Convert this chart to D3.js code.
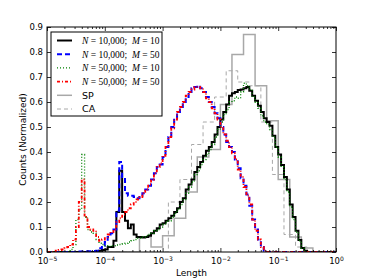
<!DOCTYPE html>
<html>
<head>
<meta charset="utf-8">
<script src="https://cdn.jsdelivr.net/npm/d3@7"></script>
<style>
  body { margin: 0; background: #fff; }
  svg { display: block; font-family: "DejaVu Sans", sans-serif; }
</style>
</head>
<body>
<div id="chart"></div>
<script>
// fine histograms: 100 log bins between 1e-5 and 1
const fineBinStart = -5, fineBinStep = 0.05;

const n10kM10 = [0,0,0,0,0,0,0,0,0,0,0,0,0,0,0,0,0,
  0.003,0.005,0.008,0.01,0.02,0.02,0.045,0.16,0.325,0.16,0.125,0.095,0.11,0.07,
  0.06,0.06,0.058,0.06,0.065,0.075,0.085,0.095,0.11,0.115,0.125,0.135,0.145,0.16,
  0.175,0.2,0.215,0.25,0.27,0.29,0.32,0.34,0.36,0.385,0.405,0.42,0.44,0.47,0.5,
  0.53,0.56,0.59,0.625,0.635,0.64,0.648,0.65,0.655,0.66,0.645,0.625,0.605,0.585,
  0.56,0.535,0.52,0.505,0.465,0.42,0.39,0.348,0.3,0.25,0.19,0.14,0.085,0.048,
  0.016,0.005,0,0,0,0,0,0,0,0,0,0];

const n10kM50 = [0,0,0,0,0,0,0,0,0,0,0.002,0.002,0.002,0.003,0.003,0.003,0.004,
  0.005,0.015,0.025,0.04,0.06,0.075,0.09,0.165,0.36,0.3,0.235,0.225,0.225,0.22,
  0.215,0.225,0.235,0.25,0.265,0.29,0.315,0.34,0.35,0.38,0.42,0.46,0.5,0.535,
  0.56,0.58,0.6,0.62,0.64,0.655,0.66,0.665,0.655,0.64,0.62,0.6,0.58,0.555,0.535,
  0.5,0.47,0.44,0.42,0.4,0.37,0.335,0.295,0.265,0.23,0.185,0.13,0.09,0.05,0.02,
  0.005,0,0,0,0,0,0,0,0,0,0,0,0,0,0,0,0,0,0,0,0,0,0,0,0];

const n50kM10 = [0,0,0,0,0,0,0,0,
  0.01,0.03,0.13,0.17,0.39,0.14,0.09,0.08,0.075,0.05,0.035,0.03,0.025,0.022,
  0.025,0.025,0.028,0.03,0.032,0.035,0.04,0.045,0.05,0.055,0.055,0.06,0.065,0.07,
  0.075,0.085,0.09,0.1,0.11,0.12,0.125,0.14,0.155,0.17,0.19,0.21,0.235,0.26,0.28,
  0.31,0.325,0.35,0.37,0.39,0.41,0.43,0.46,0.49,0.52,0.55,0.57,0.6,0.605,0.62,
  0.615,0.64,0.675,0.665,0.65,0.62,0.6,0.575,0.545,0.52,0.51,0.49,0.46,0.42,0.38,
  0.34,0.29,0.24,0.18,0.13,0.08,0.045,0.015,0.005,0,0,0,0,0,0,0,0,0,0];

const n50kM50 = [0,0,0,0.005,0.008,0.01,0.015,0.02,0.03,0.05,0.1,0.2,0.29,0.14,
  0.1,0.09,0.085,0.06,0.045,0.05,0.055,0.07,0.08,0.09,0.12,0.135,0.15,0.16,0.175,
  0.19,0.2,0.21,0.22,0.235,0.25,0.27,0.29,0.315,0.34,0.355,0.385,0.42,0.46,0.495,
  0.53,0.56,0.58,0.6,0.625,0.64,0.65,0.66,0.66,0.655,0.64,0.615,0.6,0.575,0.555,
  0.53,0.5,0.47,0.445,0.42,0.395,0.37,0.33,0.3,0.26,0.225,0.19,0.13,0.085,0.05,
  0.02,0.005,0,0,0,0,0,0,0,0,0,0,0,0,0,0,0,0,0,0,0,0,0,0,0,0];

// coarse histograms: 0.2-decade bins
const spBinStart = -5, caBinStart = -4.9, coarseBinStep = 0.2;
const spCounts = [0,0,0,0,0,0,0,0,0.06,0.02,0.065,0.135,0.24,0.38,0.41,0.59,0.79,
  0.87,0.665,0.525,0.29,0.06,0.016,0,0];
const caCounts = [0,0,0,0,0,0,0,0,0,0,0.2,0.29,0.43,0.52,0.62,0.725,0.68,0.665,
  0.52,0.31,0.07,0.02,0,0];

const xTickExps = [-5, -4, -3, -2, -1, 0];
const yTicks = [0, 0.1, 0.2, 0.3, 0.4, 0.5, 0.6, 0.7, 0.8, 0.9];

const series = [
  {label: [["N", 1], [" = 10,000;  ", 0], ["M", 1], [" = 10", 0]], values: n10kM10, start: fineBinStart, step: fineBinStep,
   color: "#000000", width: 2, dash: null},
  {label: [["N", 1], [" = 10,000;  ", 0], ["M", 1], [" = 50", 0]], values: n10kM50, start: fineBinStart, step: fineBinStep,
   color: "#0000ff", width: 2, dash: "5,3"},
  {label: [["N", 1], [" = 50,000;  ", 0], ["M", 1], [" = 10", 0]], values: n50kM10, start: fineBinStart, step: fineBinStep,
   color: "#008000", width: 1.3, dash: "1,2"},
  {label: [["N", 1], [" = 50,000;  ", 0], ["M", 1], [" = 50", 0]], values: n50kM50, start: fineBinStart, step: fineBinStep,
   color: "#ff0000", width: 1.8, dash: "3,2,1,2"},
  {label: "SP", values: spCounts, start: spBinStart, step: coarseBinStep,
   color: "#a8a8a8", width: 1.5, dash: null},
  {label: "CA", values: caCounts, start: caBinStart, step: coarseBinStep,
   color: "#a8a8a8", width: 1, dash: "4,3"}
];

const W = 374, H = 280;
const margin = {left: 47, top: 27, right: 38, bottom: 28};
const width = W - margin.left - margin.right;
const height = H - margin.top - margin.bottom;

const svg = d3.select("#chart").append("svg").attr("width", W).attr("height", H);
const g = svg.append("g").attr("transform", `translate(${margin.left},${margin.top})`);

const x = d3.scaleLog().domain([1e-5, 1]).range([0, width]);
const y = d3.scaleLinear().domain([0, 0.9]).range([height, 0]);

g.append("clipPath").attr("id", "clip").append("rect").attr("width", width).attr("height", height);

function stepPoints(s) {
  const pts = [[Math.pow(10, s.start), 0]];
  s.values.forEach((v, i) => {
    pts.push([Math.pow(10, s.start + s.step * i), v]);
    pts.push([Math.pow(10, s.start + s.step * (i + 1)), v]);
  });
  pts.push([Math.pow(10, s.start + s.step * s.values.length), 0]);
  return pts;
}

const line = d3.line().x(d => x(d[0])).y(d => y(d[1]));
const plot = g.append("g").attr("clip-path", "url(#clip)");

// grey reference histograms underneath
const order = [4, 5, 0, 1, 2, 3];
order.forEach(k => {
  const s = series[k];
  plot.append("path")
    .attr("d", line(stepPoints(s)))
    .attr("fill", "none")
    .attr("stroke", s.color)
    .attr("stroke-width", s.width)
    .attr("stroke-dasharray", s.dash)
    .attr("stroke-linejoin", "miter");
});

// axes, ticks inward on all four sides
const minor = [];
for (let e = -5; e < 0; e++) for (let m = 2; m <= 9; m++) minor.push(m * Math.pow(10, e));
const majors = xTickExps.map(e => Math.pow(10, e));
const supFmt = ["\u22125", "\u22124", "\u22123", "\u22122", "\u22121", "0"];

function styleAxis(sel) {
  sel.select(".domain").remove();
  sel.selectAll("line").attr("stroke", "#000").attr("stroke-width", 0.8);
  sel.selectAll("text").attr("font-size", 8.5).attr("fill", "#000")
    .attr("font-family", "'DejaVu Sans', sans-serif");
}

const xb = g.append("g").attr("transform", `translate(0,${height})`)
  .call(d3.axisBottom(x).tickValues(majors).tickSize(-4).tickPadding(6).tickFormat(() => ""));
styleAxis(xb);
xb.selectAll(".tick text").each(function(d, i) {
  const t = d3.select(this);
  t.append("tspan").text("10");
  t.append("tspan").attr("dy", -3.5).attr("font-size", 6).text(supFmt[i]);
});
g.append("g").attr("transform", `translate(0,${height})`)
  .call(d3.axisBottom(x).tickValues(minor).tickSize(-2).tickFormat(() => "")).call(styleAxis);
g.append("g").call(d3.axisTop(x).tickValues(majors).tickSize(-4).tickFormat(() => "")).call(styleAxis);
g.append("g").call(d3.axisTop(x).tickValues(minor).tickSize(-2).tickFormat(() => "")).call(styleAxis);

g.append("g").call(d3.axisLeft(y).tickValues(yTicks).tickSize(-4).tickPadding(4).tickFormat(d3.format(".1f")))
  .call(styleAxis);
g.append("g").attr("transform", `translate(${width},0)`)
  .call(d3.axisRight(y).tickValues(yTicks).tickSize(-4).tickFormat(() => "")).call(styleAxis);

g.append("rect").attr("width", width).attr("height", height)
  .attr("fill", "none").attr("stroke", "#000").attr("stroke-width", 1);

g.append("text").attr("x", width / 2).attr("y", height + 24)
  .attr("text-anchor", "middle").attr("font-size", 9).text("Length");
g.append("text").attr("transform", `translate(-21,${height / 2}) rotate(-90)`)
  .attr("text-anchor", "middle").attr("font-size", 9).text("Counts (Normalized)");

// legend
const leg = g.append("g").attr("transform", "translate(4,5)");
leg.append("rect").attr("width", 111).attr("height", 84)
  .attr("fill", "#fff").attr("stroke", "#000").attr("stroke-width", 1);
series.forEach((s, i) => {
  const ry = 8.5 + i * 13.7;
  leg.append("line").attr("x1", 6).attr("x2", 21).attr("y1", ry).attr("y2", ry)
    .attr("stroke", s.color).attr("stroke-width", s.width).attr("stroke-dasharray", s.dash);
  const t = leg.append("text").attr("x", 31).attr("y", ry).attr("dy", "0.35em")
    .attr("font-size", 9.5).style("white-space", "pre");
  if (typeof s.label === "string") {
    t.attr("font-family", "'DejaVu Sans', sans-serif").text(s.label);
  } else {
    t.attr("font-family", "'Liberation Serif', 'DejaVu Serif', serif");
    s.label.forEach(p => t.append("tspan").attr("font-style", p[1] ? "italic" : "normal").text(p[0]));
  }
});
</script>
</body>
</html>
